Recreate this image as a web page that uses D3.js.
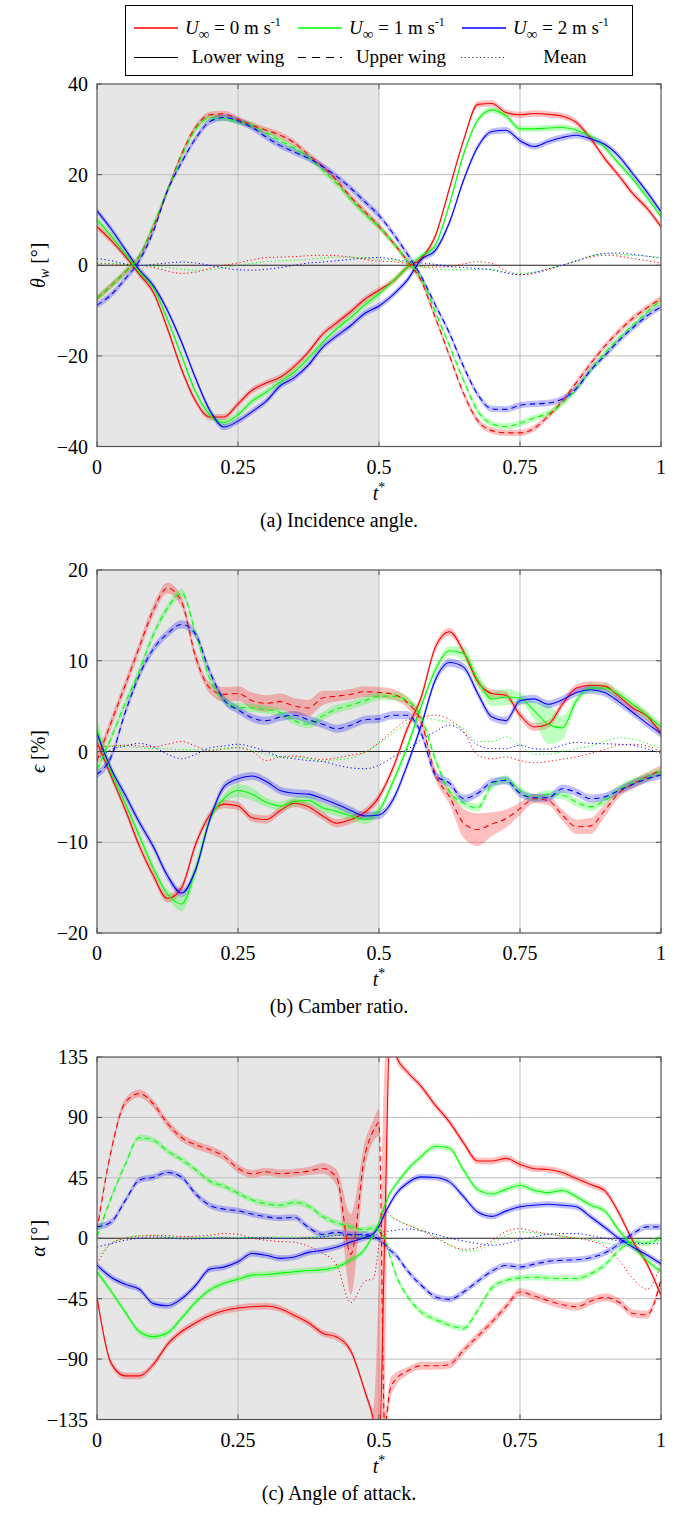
<!DOCTYPE html>
<html lang="en">
<head>
<meta charset="utf-8">
<title>wing kinematics</title>
<script src="https://cdn.jsdelivr.net/npm/d3@7"></script>
<style>
  body { margin: 0; background: #fff; }
  svg text { font-family: "Liberation Serif", "DejaVu Serif", serif; fill: #000; }
</style>
</head>
<body>
<script>

// time samples (t*) for panels a and b
var tAB = [0, 0.025, 0.05, 0.075, 0.1, 0.125, 0.15, 0.175, 0.2, 0.225, 0.25, 0.275, 0.3, 0.325, 0.35, 0.375, 0.4, 0.425, 0.45, 0.475,
           0.5, 0.525, 0.55, 0.575, 0.6, 0.625, 0.65, 0.675, 0.7, 0.725, 0.75, 0.775, 0.8, 0.825, 0.85, 0.875, 0.9, 0.925, 0.95, 0.975, 1];
// panel c has a few extra samples around the jump at t* = 0.5
var tC = [0, 0.025, 0.05, 0.075, 0.1, 0.125, 0.15, 0.175, 0.2, 0.225, 0.25, 0.275, 0.3, 0.325, 0.35, 0.375, 0.4, 0.425, 0.45, 0.475,
          0.49, 0.5, 0.51, 0.52, 0.53,
          0.55, 0.575, 0.6, 0.625, 0.65, 0.675, 0.7, 0.725, 0.75, 0.775, 0.8, 0.825, 0.85, 0.875, 0.9, 0.925, 0.95, 0.975, 1];

// (a) incidence angle theta_w [deg]
var aRedLow   = [8.5, 5.5, 2, -2, -6, -14, -23, -30, -33.5, -33.5, -30.6, -27.6, -26, -24.7, -22.3, -19.1, -15.2, -12.7, -10.2, -7.5, -5.5, -3.5, -0.5, 1.5, 6.5, 17, 27.6, 35.5, 35.7, 33.7, 33.2, 33.5, 33.3, 32.9, 31.5, 28, 23.6, 19.8, 15.8, 12.6, 8.5];
var aGreenLow = [10, 6.5, 2.5, -1.5, -5, -12, -20, -28, -33, -34.7, -33, -30, -28, -25.7, -23.5, -20.5, -17, -14, -11.5, -8.7, -6.3, -3.5, -0.5, 2, 4.5, 13.5, 24.5, 32, 34.3, 33, 30.1, 30.1, 30.3, 30.4, 29.8, 28.5, 26, 22.5, 19, 15, 10.7];
var aBlueLow  = [12, 8, 3.5, -1, -4.5, -10, -17, -25, -32, -35.7, -34.4, -32.3, -30, -26.6, -24.8, -22, -18.1, -15.6, -13.3, -10.6, -9, -6.5, -3.3, 1.3, 3.3, 9.5, 18.8, 26.1, 29.5, 29.8, 27.5, 26.2, 27.3, 28.2, 28.7, 27.9, 26.7, 24.1, 20.2, 16.2, 11.8];
var aRedUp    = [-7.3, -4.5, -1.5, 2, 8.5, 16.5, 24.5, 30.5, 33.2, 33.4, 32.2, 30.9, 29.8, 28.7, 27, 24.3, 21.8, 18.7, 15, 11.8, 8.6, 5, 1, -3.5, -11.6, -20, -28.3, -34.3, -36.5, -37, -37, -36, -33.3, -30, -25.9, -21.8, -17.9, -14.6, -11.7, -9.4, -7.4];
var aGreenUp  = [-7.3, -4.5, -1.5, 2, 9, 16.5, 24, 30, 32.5, 32.4, 31.7, 30.8, 29.2, 27.5, 25.8, 23.8, 21, 18, 14.5, 11.3, 8.5, 5, 1, -3, -10.3, -17.8, -25.4, -32.2, -35, -35.6, -34.9, -33.7, -32.7, -30.5, -27.2, -23.1, -19.4, -16.1, -13.2, -10.4, -7.7];
var aBlueUp   = [-8.8, -6.5, -3, 1, 7.5, 16.5, 22.7, 28, 31.7, 32.6, 31.9, 30.4, 28.3, 26.4, 25, 23.6, 21.8, 19.6, 17, 14, 11, 7, 2.5, -2.5, -8.8, -15, -22.4, -28.5, -31.7, -31.8, -30.9, -30.6, -30.4, -29.5, -27.2, -23.2, -20, -16.7, -13.8, -11.2, -9.2];
var aRedMean   = [0.4, 0.3, 0.1, 0, -0.5, -1.3, -1.8, -1.5, -0.7, 0, 0.5, 1.2, 1.7, 1.8, 1.9, 2.1, 2.2, 2.1, 1.8, 1.3, 0.9, 0.8, 0.3, -0.3, -0.4, -0.3, 0.3, 0.8, 0.4, -1.2, -2.1, -1.8, -1, 0, 1, 1.8, 2.2, 2, 1.5, 1, 0.5];
var aGreenMean = [0.5, 0.4, 0.2, 0, -0.2, -0.5, -0.9, -1.1, -1, -0.5, 0, 0.4, 0.8, 1, 1.1, 1.3, 1.6, 1.8, 1.8, 1.6, 1.3, 1.1, 0.5, -0.3, -0.8, -1, -1, -0.9, -1, -1.5, -1.8, -1.5, -0.8, 0, 1, 2, 2.5, 2.4, 2.2, 2, 1.8];
var aBlueMean  = [1.5, 1, 0.3, -0.1, 0.2, 0.5, 0.7, 0.5, 0, -0.6, -1, -1.1, -0.9, -0.5, 0, 0.5, 0.7, 1, 1.3, 1.6, 1.7, 1.4, 0.8, 0.5, 0.2, -0.3, -0.5, -0.7, -1, -1.7, -2.1, -1.6, -0.8, 0, 0.9, 2, 2.6, 2.7, 2.4, 2, 1.5];

// (b) camber ratio epsilon [%]
var bRedLow   = [1, -2.7, -6.4, -10.4, -13.7, -16.2, -15, -10.2, -7, -5.8, -6, -7.3, -7.5, -6.5, -5.7, -6.1, -7.1, -7.9, -7.5, -6.7, -5, -1.8, 2.5, 6, 11.5, 13.2, 11, 7.7, 6.4, 6.2, 4, 2.7, 3, 5.2, 7, 7.3, 7.2, 6.1, 4.8, 3.9, 2];
var bGreenLow = [2.5, -2.3, -5.7, -9.3, -12.9, -15.7, -16.8, -13, -7.5, -5.2, -4.3, -4.7, -5.6, -6, -5.5, -5.4, -6.2, -6.6, -7.1, -7.5, -6.5, -3.3, 0.5, 5, 9, 11.1, 10.8, 7.9, 5.8, 6, 5.9, 4.5, 3, 2.6, 5.6, 7, 7, 6.3, 5.2, 4, 2.7];
var bBlueLow  = [2, -1.9, -4.8, -7.8, -10.5, -13.7, -15.6, -13, -7.5, -3.9, -3, -2.7, -3.3, -4.3, -4.6, -4.7, -5.2, -5.8, -6.5, -7.1, -7, -5.3, -1.5, 2.9, 7.9, 9.8, 9.3, 6.4, 3.8, 3.4, 5.6, 5.8, 5.2, 5.7, 6.5, 6.8, 6.5, 5.5, 4.3, 3.1, 2];
var bRedUp    = [-1, 3.2, 7.3, 11.5, 15.6, 18, 16.5, 10.4, 7, 6.3, 6.4, 5.6, 5.3, 5.5, 5, 4.8, 5.9, 6.1, 6.3, 6.6, 6.5, 6.3, 5.4, 3.2, -2.5, -5, -7.9, -8.6, -8, -7.4, -6.3, -5.2, -5.4, -7, -8.3, -8.2, -6.5, -4.6, -3.6, -2.8, -2];
var bGreenUp  = [-2, 1.5, 5.3, 8.9, 12.9, 15.8, 17.5, 13, 8, 5.7, 4.9, 4.8, 4.6, 4.3, 3.4, 3, 3.9, 4.7, 5.1, 5.6, 6.1, 6.1, 5.6, 3.8, -0.9, -4.4, -5.7, -6.2, -3.7, -3.1, -4.3, -5.1, -4.7, -4.8, -5.6, -6.1, -5.4, -4.2, -3.4, -2.8, -2.2];
var bBlueUp   = [-2.5, -0.6, 4.3, 8.4, 11.3, 13, 14, 12.9, 8.8, 5.7, 4.6, 3.7, 3.4, 3.8, 4, 3.5, 3, 2.5, 2.9, 3.5, 3.6, 4, 4, 2, -2.6, -3.5, -5.2, -4.6, -3.4, -3.2, -4.6, -5.1, -5.1, -4.1, -4.5, -5.2, -5, -4.3, -3.6, -3, -2.6];
var bRedMean   = [0.5, 0.6, 0.7, 0.6, 0.5, 0.8, 1.1, 0.6, 0.1, 0.3, 0.4, 0, -1, -0.6, -0.5, -0.7, -0.9, -0.7, -0.4, -0.1, 1, 2.3, 3.5, 3.8, 4, 3.5, 2.2, -0.4, -0.8, -0.6, -1, -1.25, -1.1, -0.85, -0.6, -0.2, 0.2, 0.7, 0.8, 0.6, 0];
var bGreenMean = [-0.2, 0.6, 0.6, 0.4, 0.3, 0.3, 0.2, 0.2, 0.2, 0.3, 0.5, 0.1, -0.3, -0.6, -0.6, -0.8, -1.1, -0.9, -0.7, -0.1, 0.9, 2, 3.1, 3.8, 3.5, 3.2, 2.5, 1.1, 1.1, 1.6, 0.7, -0.3, -0.3, 0, 0.3, 0.6, 1.1, 1.5, 1.35, 0.9, 0.3];
var bBlueMean  = [-0.9, 0.2, 0.6, 0.9, 0.5, -0.3, -0.8, -0.3, 0.4, 0.6, 0.8, 0.5, 0, -0.6, -0.8, -1, -1.1, -1.5, -1.8, -1.9, -1.5, -0.6, 0.2, 1.3, 2.2, 2.9, 2.1, 0.7, 0.3, 0.3, 0.7, 0.3, 0.25, 0.7, 1, 0.9, 0.85, 0.8, 0.7, 0.3, -0.2];
// spread of the two noisiest camber runs
var bRedUpSpread    = [0.6, 0.6, 0.6, 0.6, 0.6, 0.6, 0.6, 0.6, 0.6, 0.8, 0.8, 0.9, 0.9, 0.9, 0.9, 0.9, 0.8, 0.6, 0.6, 0.6, 0.6, 0.6, 0.6, 0.6, 0.6, 0.8, 1.6, 1.8, 1.3, 1, 0.7, 0.5, 0.5, 0.6, 0.8, 0.9, 0.7, 0.5, 0.5, 0.5, 0.5];
var bGreenLowSpread = [1.2, 0.8, 0.5, 0.5, 0.5, 0.5, 0.8, 0.8, 0.5, 0.5, 0.7, 0.7, 0.5, 0.5, 0.5, 0.5, 0.5, 0.5, 0.5, 0.5, 0.5, 0.5, 0.5, 0.5, 0.5, 0.5, 0.8, 0.8, 0.8, 0.9, 0.6, 1, 2.2, 1.3, 0.5, 0.5, 0.5, 0.5, 0.5, 0.5, 0.5];

// (c) angle of attack alpha [deg]
var cRedLow   = [-43.8, -93, -102.5, -102.5, -94, -79, -69.5, -63, -57.5, -54, -52, -51, -50.5, -52.5, -57.5, -63, -70.7, -73.6, -84, -114, -135, -160, 0, 160, 136, 124, 113, 99, 86.5, 71, 57.5, 57.5, 59.5, 55, 51.8, 51.2, 49, 44.5, 40, 35.5, 19, -2, -19, -42.5];
var cGreenLow = [-25, -39.5, -55, -69.5, -73.3, -70.5, -59.5, -47.5, -38.5, -33.5, -30.5, -27.5, -27, -26, -25, -24, -23.4, -21.4, -16.2, -8, 3, 12, 24, 34, 40, 51, 61, 68.5, 67, 50.7, 36.2, 33, 36.4, 39.5, 35.8, 34, 35.6, 30.9, 24.7, 20.4, 6, -6, -16.5, -25];
var cBlueLow  = [-20, -29, -34.3, -38, -48.7, -50.3, -45, -35, -23, -21.5, -17.5, -11.4, -12.7, -15, -14, -10.5, -9, -6.5, -2.7, 0.5, 3.5, 9, 18, 26, 33, 41, 45.7, 45.3, 42, 31, 19.5, 16.3, 20.2, 23.4, 24.6, 25.3, 24.6, 23.4, 16, 8.2, 0, -6.5, -12.5, -19];
var cRedUp    = [6, 65, 101, 107.8, 100, 85.5, 75, 69.5, 66, 61, 52, 48, 49.5, 48.2, 48.8, 50, 52, 45, -12, 62, 80, 86, -140, -112, -105, -99, -95, -95, -94, -83.5, -73, -62.5, -51, -40, -43, -46.5, -49.5, -51, -47, -44, -47.5, -56, -57, -31];
var cGreenUp  = [1, 30, 55, 75, 73, 65, 58.5, 51, 42.5, 38.8, 33.5, 28.5, 25.7, 24.6, 26.7, 24, 16.2, 11.5, 8.5, 6.2, 7.8, 6, 0, -14, -27, -43, -55, -60.5, -64.8, -67, -53.5, -37, -31.5, -29.5, -29, -29.6, -30, -30, -26.5, -20, -9, -2.5, -3.5, 1];
var cBlueUp   = [8.5, 12, 28, 43.3, 45.5, 49, 45.5, 33, 24.5, 21.7, 20.5, 18, 16, 15, 15.5, 8, 2.8, 4.4, 2.7, 2.9, 1, -0.5, -4.5, -9, -12.5, -24, -35, -43.5, -45.5, -40, -32, -24.5, -20.3, -21.4, -19.3, -17.2, -16.4, -16, -14.5, -11, -4.5, 3.3, 8.5, 8.5];
var cRedMean   = [-19, -4, 0, 1.5, 2.2, 2, 1.2, 1.5, 2.2, 3.5, 3, 0, -1.5, -2.5, -3, -6, -11, -20, -48, -32, -30, -5, 22, 17, 14, 10, 5.8, 0.3, -5, -8.3, -7, -2, 5, 7.2, 5, 3.3, 1.5, 0, -2, -6, -16, -30, -38, -19];
var cGreenMean = [-14, -4, 0, 2, 2.2, 1, 0, 0.5, 1, 1, 0.5, 0.5, 1, 1, 1, 1, 1.5, 2, 2, 1.5, 3, 10, 17, 16, 14, 10, 6, 1.5, -5, -9.5, -9, -4, 2, 4.7, 4, 3, 1.5, 0, -1, -3.5, -5, -6, -3, -1.5];
var cBlueMean  = [-6.5, -4, -1.5, 0, 1, 0.5, -0.5, -0.5, 0, 0.5, 0, 0.5, 0.5, 0, 0, 0.5, 1, 2, 2.5, 2, 1.5, 4, 5, 5.5, 6, 7, 5.5, 3, 0, -2, -4, -5.2, -4, -1, 1, 3, 3.5, 3.5, 2, 0, -2, -3.5, -4, -4];
var cRedUpSpread  = [3, 3, 3, 3, 3, 3, 3, 3, 3, 3, 3, 3, 3, 3, 3, 3, 4, 6, 30, 10, 8, 10, 10, 8, 5, 3, 3, 3, 3, 3, 3, 3, 3, 3, 3, 3, 3, 3, 3, 3, 3, 3, 3, 3];
var cRedLowSpread = [2.5, 2.5, 2.5, 2.5, 2.5, 2.5, 2.5, 2.5, 2.5, 2.5, 2.5, 2.5, 2.5, 2.5, 2.5, 2.5, 2.5, 2.5, 2.5, 3, 8, 130, 130, 8, 4, 2.5, 2.5, 2.5, 2.5, 2.5, 2.5, 2.5, 2.5, 2.5, 2.5, 2.5, 2.5, 2.5, 2.5, 2.5, 2.5, 2.5, 2.5, 2.5];

var xTicks = [0, 0.25, 0.5, 0.75, 1];
var xTickLabels = ["0", "0.25", "0.5", "0.75", "1"];
var speedLabels = ["0", "1", "2"];
var styleLabels = ["Lower wing", "Upper wing", "Mean"];

var red = "#ff0000", green = "#00ff00", blue = "#0000ff";
var dashes = { low: null, up: "5.5,4", mean: "1.2,2.6" };

var panels = [
  { key: "a", top: 84, bottom: 446.5, domain: [-40, 40], ticks: [-40, -20, 0, 20, 40], t: tAB, band: 0.7,
    caption: "(a) Incidence angle.", ylab: "theta",
    series: [
      { c: red, kind: "mean", v: aRedMean }, { c: green, kind: "mean", v: aGreenMean }, { c: blue, kind: "mean", v: aBlueMean },
      { c: red, kind: "low", v: aRedLow }, { c: green, kind: "low", v: aGreenLow }, { c: blue, kind: "low", v: aBlueLow },
      { c: red, kind: "up", v: aRedUp }, { c: green, kind: "up", v: aGreenUp }, { c: blue, kind: "up", v: aBlueUp }
    ] },
  { key: "b", top: 570, bottom: 933, domain: [-20, 20], ticks: [-20, -10, 0, 10, 20], t: tAB, band: 0.45,
    caption: "(b) Camber ratio.", ylab: "eps",
    series: [
      { c: red, kind: "mean", v: bRedMean }, { c: green, kind: "mean", v: bGreenMean }, { c: blue, kind: "mean", v: bBlueMean },
      { c: red, kind: "low", v: bRedLow }, { c: green, kind: "low", v: bGreenLow, s: bGreenLowSpread }, { c: blue, kind: "low", v: bBlueLow },
      { c: red, kind: "up", v: bRedUp, s: bRedUpSpread }, { c: green, kind: "up", v: bGreenUp }, { c: blue, kind: "up", v: bBlueUp }
    ] },
  { key: "c", top: 1057, bottom: 1419.5, domain: [-135, 135], ticks: [-135, -90, -45, 0, 45, 90, 135], t: tC, band: 2.3,
    caption: "(c) Angle of attack.", ylab: "alpha",
    series: [
      { c: red, kind: "mean", v: cRedMean }, { c: green, kind: "mean", v: cGreenMean }, { c: blue, kind: "mean", v: cBlueMean },
      { c: red, kind: "low", v: cRedLow, s: cRedLowSpread }, { c: green, kind: "low", v: cGreenLow }, { c: blue, kind: "low", v: cBlueLow },
      { c: red, kind: "up", v: cRedUp, s: cRedUpSpread }, { c: green, kind: "up", v: cGreenUp }, { c: blue, kind: "up", v: cBlueUp }
    ] }
];

var W = 678, H = 1522;
var X0 = 97, X1 = 661;

var svg = d3.select("body").append("svg")
  .attr("width", W).attr("height", H);
var defs = svg.append("defs");

var x = d3.scaleLinear().domain([0, 1]).range([X0, X1]);

panels.forEach(function(p) {
  var y = d3.scaleLinear().domain(p.domain).range([p.bottom, p.top]);
  var g = svg.append("g");

  defs.append("clipPath").attr("id", "clip-" + p.key)
    .append("rect")
    .attr("x", X0).attr("y", p.top)
    .attr("width", X1 - X0).attr("height", p.bottom - p.top);

  // first half of the stroke shaded grey
  g.append("rect")
    .attr("x", x(0)).attr("y", p.top)
    .attr("width", x(0.5) - x(0)).attr("height", p.bottom - p.top)
    .attr("fill", "#e6e6e6");

  // grid
  g.selectAll(".gx").data(xTicks.slice(1, -1)).enter().append("line")
    .attr("x1", function(d) { return x(d); }).attr("x2", function(d) { return x(d); })
    .attr("y1", p.top).attr("y2", p.bottom)
    .attr("stroke", "#bdbdbd").attr("stroke-width", 1);
  g.selectAll(".gy").data(p.ticks.slice(1, -1).filter(function(d) { return d !== 0; })).enter().append("line")
    .attr("x1", X0).attr("x2", X1)
    .attr("y1", function(d) { return y(d); }).attr("y2", function(d) { return y(d); })
    .attr("stroke", "#bdbdbd").attr("stroke-width", 1);

  // zero line
  g.append("line")
    .attr("x1", X0).attr("x2", X1).attr("y1", y(0)).attr("y2", y(0))
    .attr("stroke", "#222").attr("stroke-width", 1.1);

  var plot = g.append("g").attr("clip-path", "url(#clip-" + p.key + ")");

  var area = d3.area()
    .x(function(d) { return x(d.t); })
    .y0(function(d) { return y(d.v - d.s); })
    .y1(function(d) { return y(d.v + d.s); })
    .curve(d3.curveMonotoneX);
  var line = d3.line()
    .x(function(d) { return x(d.t); })
    .y(function(d) { return y(d.v); })
    .curve(d3.curveMonotoneX);

  var rows = p.series.map(function(s) {
    return s.v.map(function(v, i) {
      return { t: p.t[i], v: v, s: s.s ? s.s[i] : p.band };
    });
  });

  // bands under every wing curve
  p.series.forEach(function(s, k) {
    if (s.kind === "mean") return;
    plot.append("path").datum(rows[k])
      .attr("d", area)
      .attr("fill", s.c).attr("fill-opacity", 0.25).attr("stroke", "none");
  });

  p.series.forEach(function(s, k) {
    plot.append("path").datum(rows[k])
      .attr("d", line)
      .attr("fill", "none")
      .attr("stroke", s.c)
      .attr("stroke-width", s.kind === "mean" ? 1 : 1.1)
      .attr("stroke-dasharray", dashes[s.kind]);
  });

  // frame
  g.append("rect")
    .attr("x", X0).attr("y", p.top)
    .attr("width", X1 - X0).attr("height", p.bottom - p.top)
    .attr("fill", "none").attr("stroke", "#555").attr("stroke-width", 1.2);

  // tick marks, inside on all sides
  xTicks.forEach(function(d) {
    g.append("line").attr("x1", x(d)).attr("x2", x(d)).attr("y1", p.bottom).attr("y2", p.bottom - 5).attr("stroke", "#555");
    g.append("line").attr("x1", x(d)).attr("x2", x(d)).attr("y1", p.top).attr("y2", p.top + 5).attr("stroke", "#555");
  });
  p.ticks.forEach(function(d) {
    g.append("line").attr("x1", X0).attr("x2", X0 + 5).attr("y1", y(d)).attr("y2", y(d)).attr("stroke", "#555");
    g.append("line").attr("x1", X1).attr("x2", X1 - 5).attr("y1", y(d)).attr("y2", y(d)).attr("stroke", "#555");
  });

  // tick labels
  g.selectAll(".xl").data(xTicks).enter().append("text")
    .attr("x", function(d) { return x(d); })
    .attr("y", p.bottom + 27)
    .attr("text-anchor", "middle")
    .attr("font-size", 20)
    .text(function(d, i) { return xTickLabels[i]; });
  g.selectAll(".yl").data(p.ticks).enter().append("text")
    .attr("x", X0 - 9)
    .attr("y", function(d) { return y(d) + 7; })
    .attr("text-anchor", "end")
    .attr("font-size", 20)
    .text(function(d) { return d < 0 ? "\u2212" + Math.abs(d) : String(d); });

  // x label t*
  var xl = g.append("text")
    .attr("x", (X0 + X1) / 2).attr("y", p.bottom + 53)
    .attr("text-anchor", "middle").attr("font-size", 20);
  xl.append("tspan").attr("font-style", "italic").text("t");
  xl.append("tspan").attr("font-size", 14).attr("dy", -8).text("*");

  // y label
  var yc = (p.top + p.bottom) / 2;
  var yl = g.append("text")
    .attr("transform", "translate(" + 45 + "," + yc + ") rotate(-90)")
    .attr("text-anchor", "middle").attr("font-size", 20);
  if (p.ylab === "theta") {
    yl.append("tspan").attr("font-style", "italic").text("\u03b8");
    yl.append("tspan").attr("font-style", "italic").attr("font-size", 14).attr("dy", 4).text("w");
    yl.append("tspan").attr("dy", -4).text(" [\u00b0]");
  } else if (p.ylab === "eps") {
    yl.append("tspan").attr("font-style", "italic").text("\u03f5");
    yl.append("tspan").text(" [%]");
  } else {
    yl.append("tspan").attr("font-style", "italic").text("\u03b1");
    yl.append("tspan").text(" [\u00b0]");
  }

  // caption
  g.append("text")
    .attr("x", W / 2).attr("y", p.bottom + 80)
    .attr("text-anchor", "middle").attr("font-size", 20)
    .text(p.caption);
});

// legend
var lg = svg.append("g");
lg.append("rect")
  .attr("x", 125.5).attr("y", 5.5).attr("width", 507).attr("height", 70)
  .attr("fill", "#fff").attr("stroke", "#000").attr("stroke-width", 1);

var speedX = [134, 298, 462];
var speedColors = [red, green, blue];
speedX.forEach(function(x0, i) {
  lg.append("line").attr("x1", x0).attr("x2", x0 + 44).attr("y1", 28).attr("y2", 28)
    .attr("stroke", speedColors[i]).attr("stroke-width", 1.4);
  var t = lg.append("text").attr("x", x0 + 51).attr("y", 34).attr("font-size", 19);
  t.append("tspan").attr("font-style", "italic").text("U");
  t.append("tspan").attr("font-size", 15).attr("dy", 5).text("\u221e");
  t.append("tspan").attr("dy", -5).text(" = " + speedLabels[i] + " m s");
  t.append("tspan").attr("font-size", 12).attr("dy", -8).text("-1");
});

var styleX = [134, 298, 461];
var styleTextX = [238, 401, 565];
["low", "up", "mean"].forEach(function(k, i) {
  lg.append("line").attr("x1", styleX[i]).attr("x2", styleX[i] + 44).attr("y1", 57.5).attr("y2", 57.5)
    .attr("stroke", "#000").attr("stroke-width", k === "mean" ? 0.8 : 1.1)
    .attr("stroke-dasharray", k === "up" ? "8,6" : dashes[k]);
  lg.append("text").attr("x", styleTextX[i]).attr("y", 63).attr("font-size", 19)
    .attr("text-anchor", "middle").text(styleLabels[i]);
});

</script>
</body>
</html>
